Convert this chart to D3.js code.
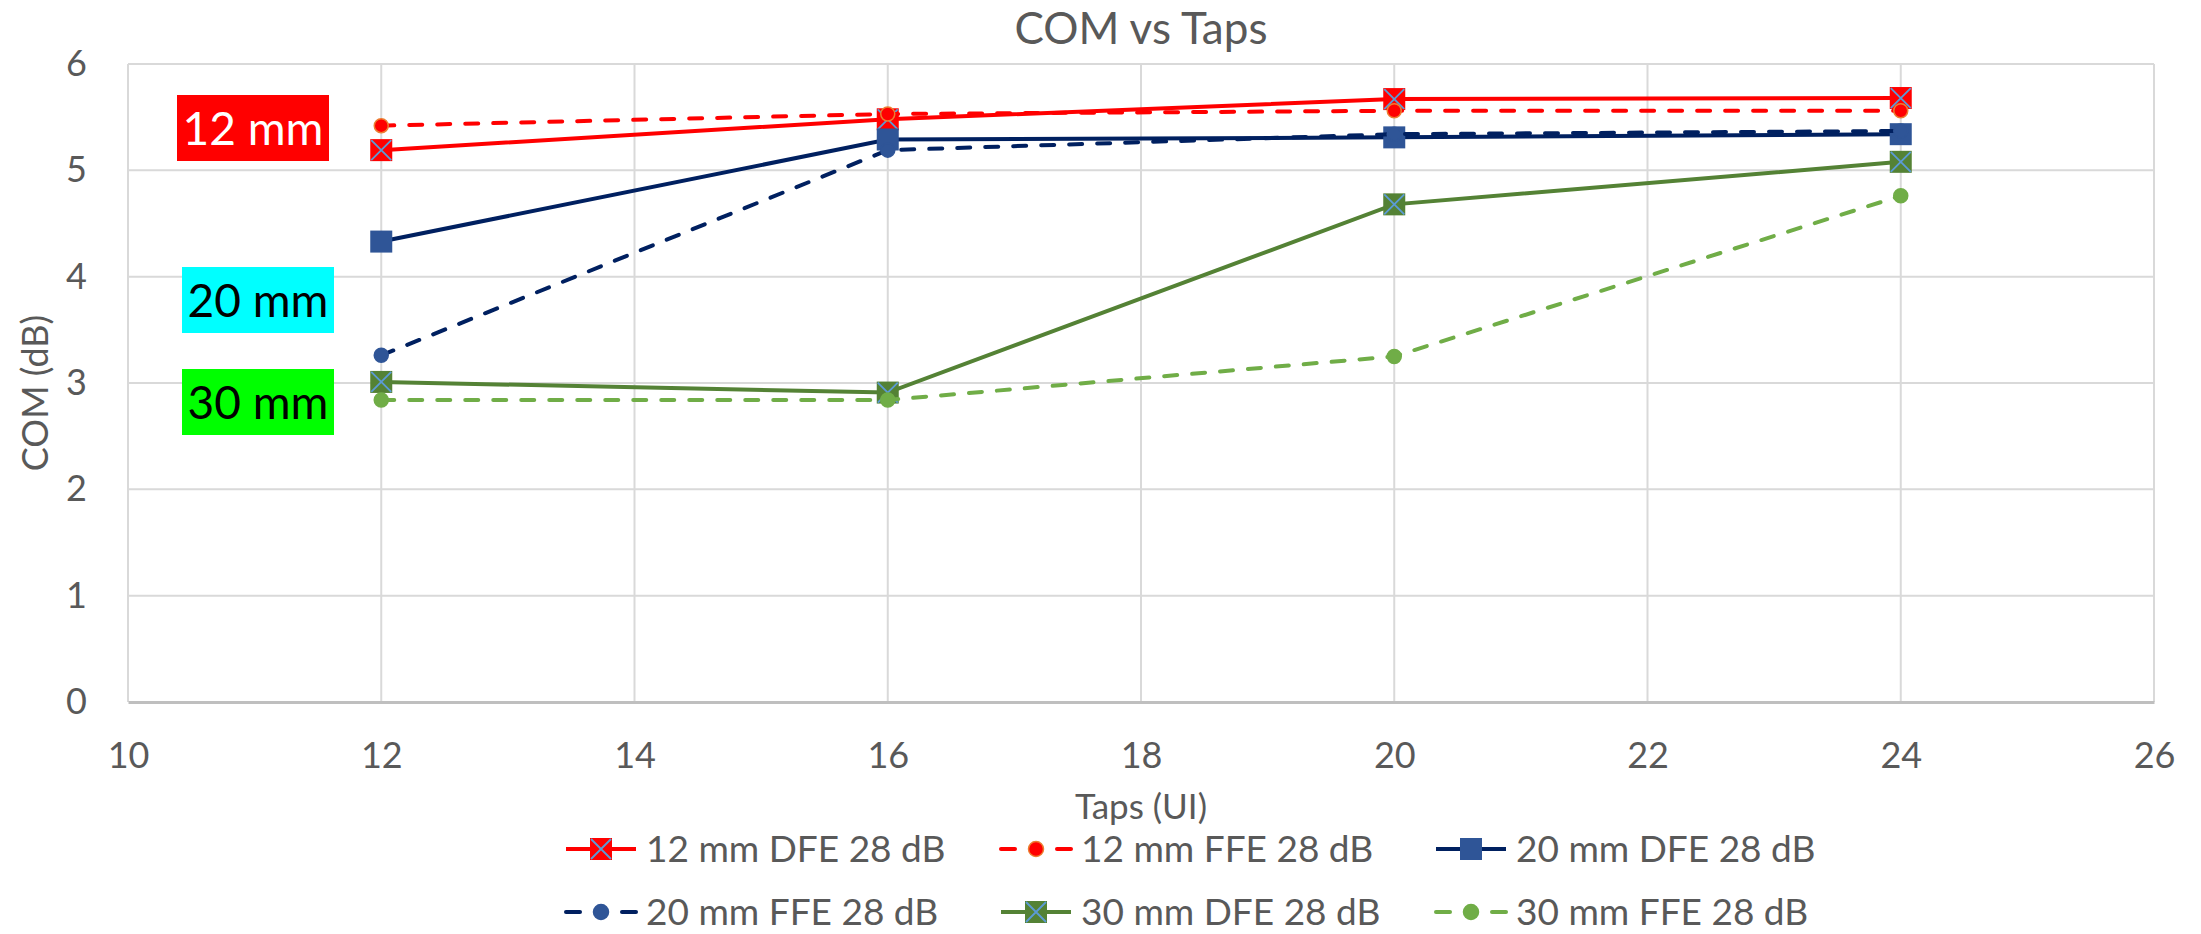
<!DOCTYPE html>
<html>
<head>
<meta charset="utf-8">
<script src="https://cdn.jsdelivr.net/npm/d3@7"></script>
<style>
  html, body { margin: 0; padding: 0; background: #fff; }
  svg { display: block; font-family: Lato, "Open Sans", sans-serif; }
</style>
</head>
<body>
<svg id="chart" width="2201" height="934"></svg>
<script>
// Taps (UI) on the x axis
const taps = [12, 16, 20, 24];

// COM (dB) per series
const dfe12 = [5.19, 5.48, 5.67, 5.68];
const ffe12 = [5.42, 5.53, 5.56, 5.56];
const dfe20 = [4.33, 5.29, 5.31, 5.34];
const ffe20 = [3.26, 5.19, 5.34, 5.37];
const dfe30 = [3.01, 2.91, 4.68, 5.08];
const ffe30 = [2.84, 2.84, 3.25, 4.76];

const seriesNames = [
  "12 mm DFE 28 dB", "12 mm FFE 28 dB", "20 mm DFE 28 dB",
  "20 mm FFE 28 dB", "30 mm DFE 28 dB", "30 mm FFE 28 dB"
];
const seriesValues = [dfe12, ffe12, dfe20, ffe20, dfe30, ffe30];

const xTicks = [10, 12, 14, 16, 18, 20, 22, 24, 26];
const yTicks = [0, 1, 2, 3, 4, 5, 6];

const annotations = ["12 mm", "20 mm", "30 mm"];

// Visual style for each series
const styles = [
  { line: "#FF0000", dash: null,    marker: "squareX", fill: "#FF0000", stroke: "#FF0000" },
  { line: "#FF0000", dash: "13,15", marker: "circle",  fill: "#FF0000", stroke: "#ED7D31" },
  { line: "#002060", dash: null,    marker: "square",  fill: "#2F5597", stroke: "#2F5597" },
  { line: "#002060", dash: "13,15", marker: "circle",  fill: "#2F5597", stroke: "#2F5597" },
  { line: "#548235", dash: null,    marker: "squareX", fill: "#548235", stroke: "#548235" },
  { line: "#70AD47", dash: "13,15", marker: "circle",  fill: "#70AD47", stroke: "#70AD47" }
];

const svg = d3.select("#chart");
const textColor = "#595959";
const gridColor = "#D9D9D9";

const plot = { left: 128, right: 2154, top: 64, bottom: 702 };
const x = d3.scaleLinear().domain([10, 26]).range([plot.left, plot.right]);
const y = d3.scaleLinear().domain([0, 6]).range([plot.bottom, plot.top]);

// Title
svg.append("text")
  .attr("x", (plot.left + plot.right) / 2).attr("y", 44)
  .attr("text-anchor", "middle")
  .attr("fill", textColor).attr("font-size", 44)
  .text("COM vs Taps");

// Gridlines
const grid = svg.append("g");
grid.selectAll("line.h").data(yTicks.filter(d => d > 0)).join("line")
  .attr("x1", plot.left).attr("x2", plot.right)
  .attr("y1", d => y(d)).attr("y2", d => y(d))
  .attr("stroke", gridColor).attr("stroke-width", 2);
grid.selectAll("line.v").data(xTicks).join("line")
  .attr("x1", d => x(d)).attr("x2", d => x(d))
  .attr("y1", plot.top).attr("y2", plot.bottom)
  .attr("stroke", gridColor).attr("stroke-width", 2);

// Axes
const xAxis = d3.axisBottom(x).tickValues(xTicks).tickSize(0).tickPadding(40).tickFormat(d3.format("d"));
const gx = svg.append("g").attr("transform", `translate(0,${plot.bottom})`).call(xAxis);
gx.select(".domain").attr("stroke", "#BFBFBF").attr("stroke-width", 3);
gx.selectAll("text").attr("fill", textColor).attr("font-size", 36).attr("font-family", "Lato, sans-serif");

const yAxis = d3.axisLeft(y).tickValues(yTicks).tickSize(0).tickPadding(41).tickFormat(d3.format("d"));
const gy = svg.append("g").attr("transform", `translate(${plot.left},0)`).call(yAxis);
gy.select(".domain").remove();
gy.selectAll("text").attr("fill", textColor).attr("font-size", 36).attr("font-family", "Lato, sans-serif");

// Axis titles
svg.append("text")
  .attr("x", (plot.left + plot.right) / 2).attr("y", 819)
  .attr("text-anchor", "middle").attr("fill", textColor).attr("font-size", 35)
  .text("Taps (UI)");
svg.append("text")
  .attr("transform", `translate(48,${(plot.top + plot.bottom) / 2 + 10}) rotate(-90)`)
  .attr("text-anchor", "middle").attr("fill", textColor).attr("font-size", 36)
  .text("COM (dB)");

// Marker drawing helper
function drawMarker(g, style, cx, cy, big) {
  if (style.marker === "circle") {
    const r = big ? 7.5 : 7;
    g.append("circle").attr("cx", cx).attr("cy", cy).attr("r", r)
      .attr("fill", style.fill).attr("stroke", style.stroke).attr("stroke-width", 1.5);
  } else {
    const s = 22;
    g.append("rect").attr("x", cx - s / 2).attr("y", cy - s / 2)
      .attr("width", s).attr("height", s).attr("fill", style.fill);
    if (style.marker === "squareX") {
      const h = s / 2 - 1;
      g.append("path")
        .attr("d", `M${cx - h},${cy - h}L${cx + h},${cy + h}M${cx - h},${cy + h}L${cx + h},${cy - h}`)
        .attr("stroke", "#5B9BD5").attr("stroke-width", 1.8).attr("fill", "none");
    }
  }
}

// Series lines and markers
const line = d3.line().x(d => x(d[0])).y(d => y(d[1]));
const seriesG = svg.append("g");
seriesValues.forEach((vals, i) => {
  const st = styles[i];
  const pts = taps.map((t, j) => [t, vals[j]]);
  const g = seriesG.append("g");
  g.append("path").datum(pts).attr("d", line)
    .attr("fill", "none").attr("stroke", st.line).attr("stroke-width", 4)
    .attr("stroke-linecap", st.dash ? "round" : "butt")
    .attr("stroke-dasharray", st.dash);
  pts.forEach(p => drawMarker(g, st, x(p[0]), y(p[1]), false));
});

// Length annotations
const annStyles = [
  { bg: "#FF0000", fg: "#FFFFFF", left: 177, top: 95 },
  { bg: "#00FFFF", fg: "#000000", left: 182, top: 267 },
  { bg: "#00FF00", fg: "#000000", left: 182, top: 369 }
];
annotations.forEach((label, i) => {
  const a = annStyles[i];
  svg.append("rect").attr("x", a.left).attr("y", a.top).attr("width", 152).attr("height", 66).attr("fill", a.bg);
  svg.append("text").attr("x", a.left + 76).attr("y", a.top + 50)
    .attr("text-anchor", "middle")
    .attr("fill", a.fg).attr("font-size", 46).text(label);
});

// Legend
const legCols = [566, 1001, 1436];
const legRows = [849, 912];
seriesNames.forEach((name, i) => {
  const st = styles[i];
  const lx = legCols[i % 3], ly = legRows[Math.floor(i / 3)];
  const g = svg.append("g");
  if (st.dash) {
    [[lx, lx + 14], [lx + 56, lx + 70]].forEach(seg => {
      g.append("line").attr("x1", seg[0]).attr("x2", seg[1]).attr("y1", ly).attr("y2", ly)
        .attr("stroke", st.line).attr("stroke-width", 4).attr("stroke-linecap", "round");
    });
  } else {
    g.append("line").attr("x1", lx).attr("x2", lx + 70).attr("y1", ly).attr("y2", ly)
      .attr("stroke", st.line).attr("stroke-width", 4);
  }
  drawMarker(g, st, lx + 35, ly, true);
  g.append("text").attr("x", lx + 80).attr("y", ly + 13)
    .attr("fill", textColor).attr("font-size", 37).text(name);
});
</script>
</body>
</html>
